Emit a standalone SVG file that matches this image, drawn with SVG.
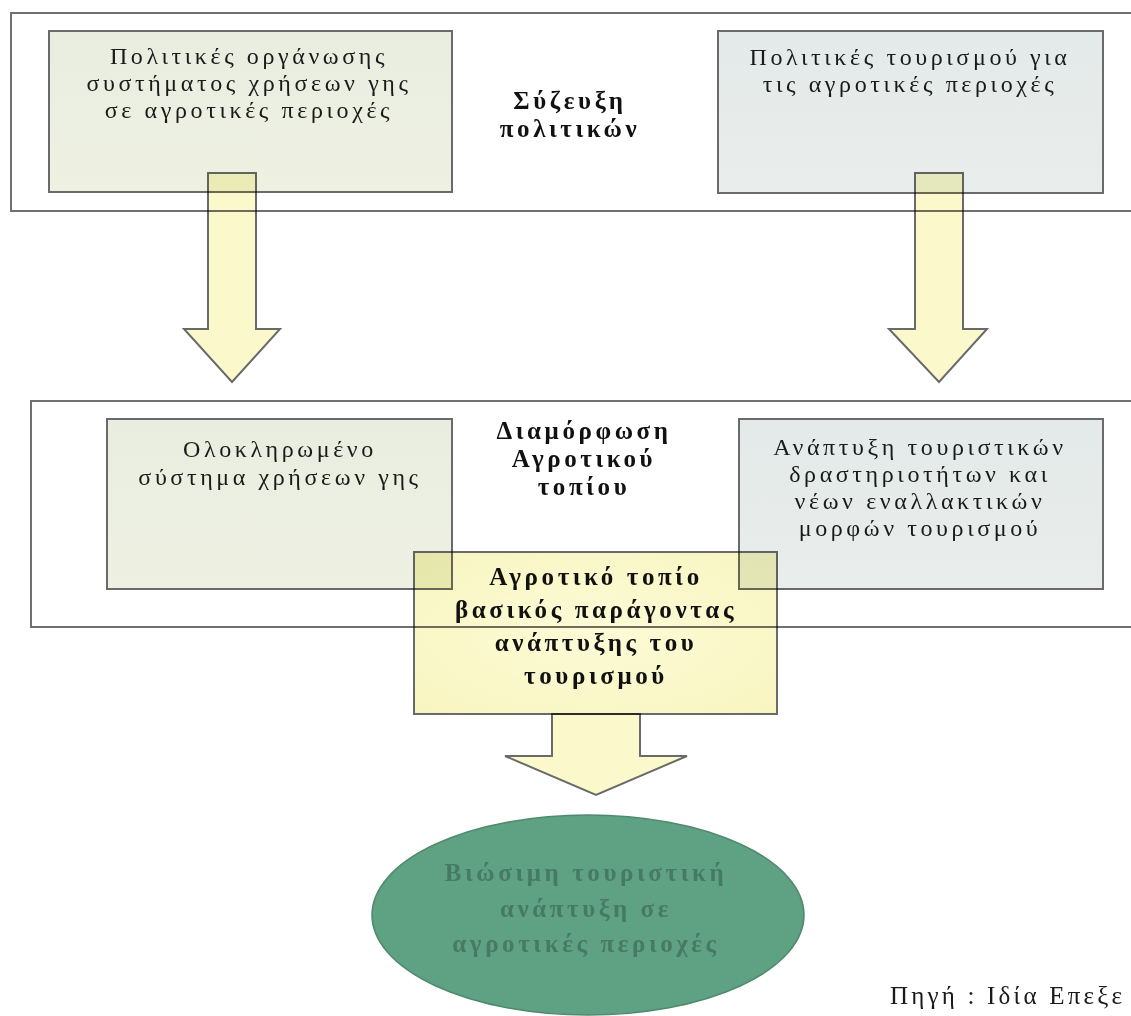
<svg xmlns="http://www.w3.org/2000/svg" width="1131" height="1016" viewBox="0 0 1131 1016">
<style>
  .frame{fill:#ffffff;stroke:#707070;stroke-width:2}
  .boxg{fill:url(#gGreen);stroke:#6a6a6a;stroke-width:2}
  .boxb{fill:url(#gBlue);stroke:#6a6a6a;stroke-width:2}
  .yel{fill:url(#gYel);stroke:#6a6a6a;stroke-width:2;mix-blend-mode:multiply}
  .arrow{fill:#fbf9cc;stroke:#6a6a6a;stroke-width:2;mix-blend-mode:multiply}
  .t{font-family:"Liberation Serif","DejaVu Serif",serif;font-size:24px;fill:#1a1a1a;text-anchor:middle;letter-spacing:3.6px}
  .b{font-family:"Liberation Serif","DejaVu Serif",serif;font-size:25px;font-weight:bold;fill:#111;text-anchor:middle;letter-spacing:3.6px}
  .e{font-family:"Liberation Serif","DejaVu Serif",serif;font-size:25px;font-weight:bold;fill:#477a64;text-anchor:middle;letter-spacing:3.6px}
  .src{font-family:"Liberation Serif","DejaVu Serif",serif;font-size:25px;fill:#1a1a1a;letter-spacing:3.2px}
</style>
<defs>
  <linearGradient id="gGreen" x1="0" y1="0" x2="0" y2="1">
    <stop offset="0" stop-color="#e9ede0"/>
    <stop offset="1" stop-color="#eef1e2"/>
  </linearGradient>
  <linearGradient id="gBlue" x1="0" y1="0" x2="0" y2="1">
    <stop offset="0" stop-color="#e4e9e9"/>
    <stop offset="1" stop-color="#e9eeec"/>
  </linearGradient>
  <radialGradient id="gYel" cx="0.5" cy="0.5" r="0.7">
    <stop offset="0" stop-color="#fcfbd6"/>
    <stop offset="1" stop-color="#f8f5c0"/>
  </radialGradient>
</defs>
<rect width="1131" height="1016" fill="#ffffff"/>

<g id="frame-top">
  <rect class="frame" x="11" y="13" width="1140" height="198"/>
  <text class="b" x="570" y="109">Σύζευξη</text>
  <text class="b" x="570" y="137">πολιτικών</text>
</g>
<g id="node-policy-land">
  <rect class="boxg" x="49" y="31" width="403" height="161"/>
  <text class="t" x="249" y="64">Πολιτικές οργάνωσης</text>
  <text class="t" x="249" y="91">συστήματος χρήσεων γης</text>
  <text class="t" x="249" y="118">σε αγροτικές περιοχές</text>
</g>
<g id="node-policy-tourism">
  <rect class="boxb" x="718" y="31" width="385" height="162"/>
  <text class="t" x="910" y="65">Πολιτικές τουρισμού για</text>
  <text class="t" x="910" y="92">τις αγροτικές περιοχές</text>
</g>

<g id="frame-mid">
  <rect class="frame" x="31" y="401" width="1120" height="226"/>
  <text class="b" x="584" y="439">Διαμόρφωση</text>
  <text class="b" x="584" y="467">Αγροτικού</text>
  <text class="b" x="584" y="495">τοπίου</text>
</g>
<g id="node-landuse">
  <rect class="boxg" x="107" y="419" width="345" height="170"/>
  <text class="t" x="280" y="457">Ολοκληρωμένο</text>
  <text class="t" x="280" y="485">σύστημα χρήσεων γης</text>
</g>
<g id="node-tourism-dev">
  <rect class="boxb" x="739" y="419" width="364" height="170"/>
  <text class="t" x="920" y="455">Ανάπτυξη τουριστικών</text>
  <text class="t" x="920" y="482">δραστηριοτήτων και</text>
  <text class="t" x="920" y="509">νέων εναλλακτικών</text>
  <text class="t" x="920" y="536">μορφών τουρισμού</text>
</g>
<g id="node-landscape">
  <rect class="yel" x="414" y="552" width="363" height="162"/>
  <text class="b" x="596" y="585">Αγροτικό τοπίο</text>
  <text class="b" x="596" y="618">βασικός παράγοντας</text>
  <text class="b" x="596" y="651">ανάπτυξης του</text>
  <text class="b" x="596" y="684">τουρισμού</text>
</g>

<g id="connectors">
  <path class="arrow" d="M208,173 H256 V329 H280 L232,382 L184,329 H208 Z"/>
  <path class="arrow" d="M915,173 H963 V329 H987 L939,382 L889,329 H915 Z"/>
  <path class="arrow" d="M552,714 H640 V756 H687 L596,795 L505,756 H552 Z"/>
</g>

<g id="node-sustainable">
  <ellipse cx="588" cy="915" rx="216" ry="100" fill="#5fa283" stroke="#4f8a6d" stroke-width="1.5"/>
  <text class="e" x="586" y="881">Βιώσιμη τουριστική</text>
  <text class="e" x="586" y="917">ανάπτυξη σε</text>
  <text class="e" x="586" y="952">αγροτικές περιοχές</text>
</g>

<text class="src" x="890" y="1004">Πηγή : Ιδία Επεξε</text>
</svg>
